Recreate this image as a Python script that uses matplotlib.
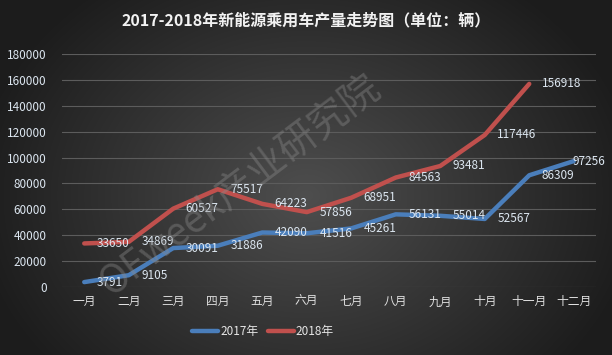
import numpy as np
import matplotlib
matplotlib.use("Agg")
import matplotlib.pyplot as plt
from matplotlib.lines import Line2D

plt.rcParams['font.family'] = ['Noto Sans CJK SC', 'DejaVu Sans']

months = ['一月', '二月', '三月', '四月', '五月', '六月', '七月', '八月', '九月', '十月', '十一月', '十二月']
sales_2017 = [3791, 9105, 30091, 31886, 42090, 41516, 45261, 56131, 55014, 52567, 86309, 97256]
sales_2018 = [33650, 34869, 60527, 75517, 64223, 57856, 68951, 84563, 93481, 117446, 156918]
y_ticks = [0, 20000, 40000, 60000, 80000, 100000, 120000, 140000, 160000, 180000]
title = '2017-2018年新能源乘用车产量走势图（单位：辆）'

W, H = 612, 355
fig = plt.figure(figsize=(W / 100, H / 100), dpi=100)

# radial gradient background
bg = fig.add_axes([0, 0, 1, 1])
yy, xx = np.mgrid[0:H, 0:W]
r = np.sqrt(((xx - W * 0.5) / (W * 0.55)) ** 2 + ((yy - H * 0.55) / (H * 0.75)) ** 2)
r = np.clip(r, 0, 1)
c0 = np.array([0x4e, 0x4e, 0x4e]) / 255
c1 = np.array([0x1c, 0x1c, 0x1c]) / 255
img = c0[None, None, :] * (1 - r[..., None]) + c1[None, None, :] * r[..., None]
bg.imshow(img, aspect='auto', extent=[0, 1, 0, 1], origin='upper')
bg.axis('off')

ax = fig.add_axes([62 / W, 1 - 287 / H, (596 - 62) / W, (287 - 54) / H])
ax.patch.set_alpha(0)
x = np.arange(len(months))
blue = '#4a7ebb'
red = '#c0504d'
ax.plot(x[:len(sales_2018)], sales_2018, color=red, lw=3.2, solid_capstyle='round', zorder=3)
ax.plot(x, sales_2017, color=blue, lw=3.2, solid_capstyle='round', zorder=3)

lab_col = '#dce6f0'
for i, v in enumerate(sales_2017):
    off = 9 if i < len(sales_2017) - 1 else -1
    ax.annotate(str(v), (x[i], v), xytext=(off, 0), textcoords='offset points',
                ha='left', va='center', fontsize=8.5, color=lab_col, zorder=4)
for i, v in enumerate(sales_2018):
    ax.annotate(str(v), (x[i], v), xytext=(9, 0), textcoords='offset points',
                ha='left', va='center', fontsize=8.5, color=lab_col, zorder=4)

ax.set_xlim(-0.5, len(months) - 0.5)
ax.set_ylim(0, 180000)
ax.set_yticks(y_ticks)
ax.set_yticklabels([str(t) for t in y_ticks])
ax.set_xticks(x)
ax.set_xticklabels(months)
ax.grid(axis='y', color='#5c5c5c', lw=0.8)
ax.set_axisbelow(True)
for s in ax.spines.values():
    s.set_visible(False)
ax.tick_params(axis='both', length=0, colors=lab_col, labelsize=8.5)
ax.tick_params(axis='y', pad=11)
ax.tick_params(axis='x', pad=6)
for t in ax.get_xticklabels():
    t.set_color('#e0e0e0')

fig.text(0.5, 1 - 20 / H, title, ha='center', va='center', fontsize=11.5,
         fontweight='bold', color='#f2f2f2')

# watermark
fig.text(240 / W, 1 - 185 / H, 'OFweek产业研究院', ha='center', va='center', fontsize=28,
         rotation=37, color='#8a8a8a', alpha=0.4, style='italic', zorder=10)

handles = [Line2D([], [], color=blue, lw=3.2, solid_capstyle='round'),
           Line2D([], [], color=red, lw=3.2, solid_capstyle='round')]
leg = fig.legend(handles, ['2017年', '2018年'], loc='center', bbox_to_anchor=(263 / W, 1 - 332 / H),
                 ncol=2, frameon=False, fontsize=8.5, handlelength=2.2, handletextpad=0.15,
                 columnspacing=0.8, labelcolor='#e6e6e6')

fig.savefig('out.png', dpi=100)
